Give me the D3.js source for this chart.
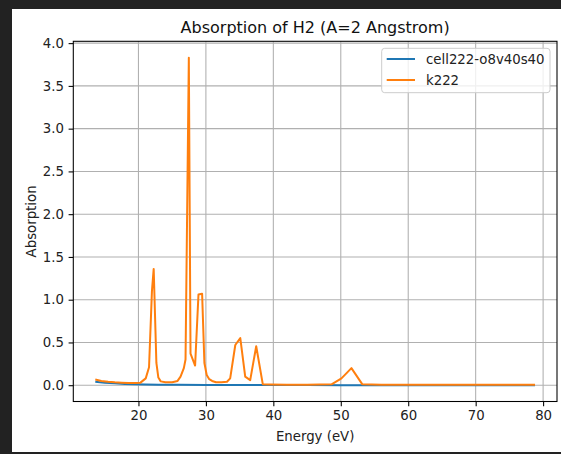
<!DOCTYPE html>
<html>
<head>
<meta charset="utf-8">
<script src="https://cdn.jsdelivr.net/npm/d3@7"></script>
<style>
    html, body { margin: 0; padding: 0; background: #222; }
    svg { display: block; font-family: "DejaVu Sans", sans-serif; }
</style>
</head>
<body>
<svg id="chart" width="561" height="454"></svg>
<script>
// ----- data
const energyCell = [13.6, 15, 16.5, 18, 19.5, 21, 23, 26, 30, 35, 40, 45, 50, 55, 60, 65, 70, 75, 78.8];
const absCell = [0.04, 0.03, 0.022, 0.015, 0.01, 0.007, 0.005, 0.004, 0.003, 0.003, 0.002, 0.002, 0.001, 0.001, 0.001, 0.001, 0.001, 0.001, 0.001];

const energyK = [13.6, 14.5, 15.5, 16.5, 17.5, 18.5, 19.5, 20.3, 21.08, 21.57, 22.0, 22.26, 22.66, 22.95, 23.3, 24.0, 25.0, 25.8, 26.24, 26.73, 26.98, 27.47, 27.72, 28.4, 28.9, 29.44, 29.78, 30.12, 30.5, 30.92, 31.5, 32.3, 33.13, 33.6, 34.36, 35.1, 35.83, 36.57, 37.46, 38.44, 39.5, 42, 45, 48.63, 50.1, 51.58, 53.2, 56, 60, 65, 70, 75, 78.8];
const absK = [0.067, 0.05, 0.04, 0.034, 0.03, 0.027, 0.025, 0.03, 0.08, 0.21, 1.1, 1.36, 0.26, 0.09, 0.045, 0.035, 0.035, 0.05, 0.1, 0.2, 0.3, 3.83, 0.37, 0.23, 1.06, 1.07, 0.26, 0.12, 0.07, 0.05, 0.035, 0.035, 0.04, 0.08, 0.47, 0.55, 0.1, 0.06, 0.456, 0.01, 0.008, 0.006, 0.006, 0.01, 0.08, 0.2, 0.01, 0.006, 0.005, 0.005, 0.005, 0.005, 0.005];

const xTicks = [20, 30, 40, 50, 60, 70, 80];
const yTicks = [0, 0.5, 1, 1.5, 2, 2.5, 3, 3.5, 4];

const seriesNames = ['cell222-o8v40s40', 'k222'];
const colors = ['#1f77b4', '#ff7f0e'];

const series = [
    energyCell.map((e, i) => ({ x: e, y: absCell[i] })),
    energyK.map((e, i) => ({ x: e, y: absK[i] })),
];

// ----- layout
const svg = d3.select('#chart');
const plot = { left: 73.3, right: 557, top: 41.3, bottom: 401.5 };
const fontSize = '13.3px';

// notebook frame
svg.append('rect').attr('width', 561).attr('height', 454).attr('fill', '#222');
svg.append('rect').attr('x', 12).attr('y', 9).attr('width', 549).attr('height', 443).attr('fill', '#fff');

// matplotlib-like 5% margins
const pad = ([a, b]) => [a - (b - a) * 0.05, b + (b - a) * 0.05];
const allX = energyCell.concat(energyK);
const allY = absCell.concat(absK);

const x = d3.scaleLinear().domain(pad(d3.extent(allX))).range([plot.left, plot.right]);
const y = d3.scaleLinear().domain(pad(d3.extent(allY))).range([plot.bottom, plot.top]);

// ----- grid
const grid = svg.append('g').attr('stroke', '#b0b0b0').attr('stroke-width', 1.07);
grid.selectAll('line.gx').data(xTicks).enter().append('line')
    .attr('x1', d => x(d)).attr('x2', d => x(d))
    .attr('y1', plot.top).attr('y2', plot.bottom);
grid.selectAll('line.gy').data(yTicks).enter().append('line')
    .attr('y1', d => y(d)).attr('y2', d => y(d))
    .attr('x1', plot.left).attr('x2', plot.right);

// ----- lines
const line = d3.line().x(d => x(d.x)).y(d => y(d.y));
svg.selectAll('path.series').data(series).enter().append('path')
    .attr('class', 'series')
    .attr('d', line)
    .attr('fill', 'none')
    .attr('stroke', (d, i) => colors[i])
    .attr('stroke-width', 2)
    .attr('stroke-linejoin', 'round');

// ----- axes
const xAxis = d3.axisBottom(x).tickValues(xTicks).tickSize(4.7).tickPadding(4.7).tickFormat(d3.format('d'));
const yAxis = d3.axisLeft(y).tickValues(yTicks).tickSize(4.7).tickPadding(4.7).tickFormat(d3.format('.1f'));

const gx = svg.append('g').attr('transform', `translate(0,${plot.bottom})`).call(xAxis);
const gy = svg.append('g').attr('transform', `translate(${plot.left},0)`).call(yAxis);

[gx, gy].forEach(g => {
    g.select('.domain').remove();
    g.selectAll('.tick line').attr('stroke', '#000').attr('stroke-width', 1.07);
    g.selectAll('.tick text').attr('fill', '#222').style('font-size', fontSize).style('font-family', '"DejaVu Sans"');
});
gx.selectAll('.tick text').attr('dy', '0.68em');

// spines
svg.append('rect')
    .attr('x', plot.left).attr('y', plot.top)
    .attr('width', plot.right - plot.left).attr('height', plot.bottom - plot.top)
    .attr('fill', 'none').attr('stroke', '#000').attr('stroke-width', 1.07);

// ----- labels
const cx = (plot.left + plot.right) / 2;
svg.append('text').attr('x', cx).attr('y', 33)
    .attr('text-anchor', 'middle').style('font-size', '16px').attr('fill', '#111')
    .text('Absorption of H2 (A=2 Angstrom)');
svg.append('text').attr('x', cx).attr('y', 441)
    .attr('text-anchor', 'middle').style('font-size', fontSize).attr('fill', '#222')
    .text('Energy (eV)');
svg.append('text')
    .attr('transform', `translate(31,${(plot.top + plot.bottom) / 2}) rotate(-90)`)
    .attr('text-anchor', 'middle').attr('dy', '0.35em').style('font-size', fontSize).attr('fill', '#222')
    .text('Absorption');

// ----- legend
const legend = svg.append('g').attr('transform', 'translate(381.7,48.3)');
legend.append('rect')
    .attr('width', 168.3).attr('height', 44.4).attr('rx', 3)
    .attr('fill', '#fff').attr('fill-opacity', 0.8)
    .attr('stroke', '#ccc').attr('stroke-width', 1);

const items = legend.selectAll('g.item').data(seriesNames).enter().append('g')
    .attr('transform', (d, i) => `translate(0,${10.7 + i * 21})`);
items.append('line')
    .attr('x1', 5).attr('x2', 33.3)
    .attr('stroke', (d, i) => colors[i]).attr('stroke-width', 2);
items.append('text')
    .attr('x', 44.3).attr('dy', '0.36em')
    .style('font-size', fontSize).attr('fill', '#222')
    .text(d => d);
</script>
</body>
</html>
